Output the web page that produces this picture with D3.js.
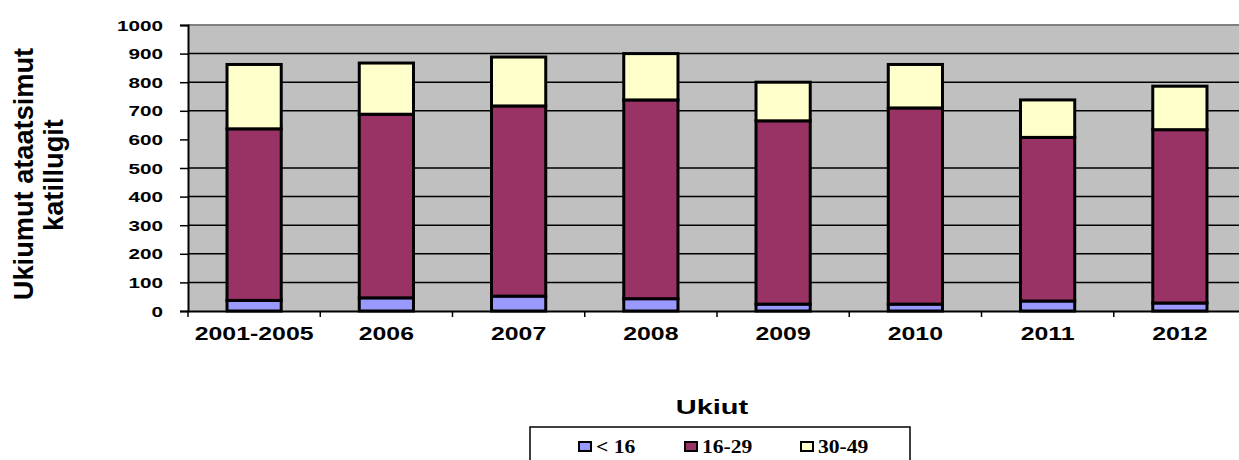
<!DOCTYPE html>
<html>
<head>
<meta charset="utf-8">
<script src="https://cdn.jsdelivr.net/npm/d3@7"></script>
<style>
  body { margin: 0; background: #fff; }
  svg { display: block; }
  text { font-family: "Liberation Sans", Arial, sans-serif; font-weight: bold; fill: #000; }
  .legend text { font-family: "Liberation Serif", "Times New Roman", serif; }
</style>
</head>
<body>
<div id="chart"></div>
<script>
// data
var years = ["2001-2005", "2006", "2007", "2008", "2009", "2010", "2011", "2012"];
var under16 = [37, 46, 52, 43, 24, 24, 35, 28];
var age16_29 = [600, 642, 665, 695, 641, 686, 572, 606];
var age30_49 = [225, 179, 171, 162, 135, 152, 131, 152];
var seriesNames = ["< 16", "16-29", "30-49"];
var seriesColors = ["#9999ff", "#993366", "#ffffcc"];
var yTicks = [0, 100, 200, 300, 400, 500, 600, 700, 800, 900, 1000];
var gridTicks = [100, 200, 300, 400, 500, 700, 800, 900]; // 600 line is missing in the original

var W = 1239, H = 460;
// picture is stretched horizontally
var sx = 1.38;

var svg = d3.select("#chart").append("svg")
    .attr("width", W)
    .attr("height", H);

var x = d3.scaleBand()
    .domain(years)
    .range([188, 1246])
    .padding(0);
var y = d3.scaleLinear()
    .domain([0, 1000])
    .range([311, 25]);

var barW = x.bandwidth() * 0.41;

// plot background
svg.append("rect")
    .attr("x", x.range()[0]).attr("y", y(1000))
    .attr("width", x.range()[1] - x.range()[0])
    .attr("height", y(0) - y(1000))
    .attr("fill", "#c0c0c0");
svg.append("line")
    .attr("x1", x.range()[0]).attr("x2", W)
    .attr("y1", y(1000)).attr("y2", y(1000))
    .attr("stroke", "#808080").attr("stroke-width", 2);

// gridlines
svg.append("g").attr("class", "grid")
    .selectAll("line")
    .data(gridTicks)
  .enter().append("line")
    .attr("x1", x.range()[0]).attr("x2", W)
    .attr("y1", function(d) { return y(d); })
    .attr("y2", function(d) { return y(d); })
    .attr("stroke", "#000").attr("stroke-width", 1.5);

// stack the data
var table = years.map(function(yr, i) {
  return { year: yr, a: under16[i], b: age16_29[i], c: age30_49[i] };
});
var stack = d3.stack().keys(["a", "b", "c"])(table);

svg.append("g").attr("class", "bars")
    .selectAll("g")
    .data(stack)
  .enter().append("g")
    .attr("fill", function(d, i) { return seriesColors[i]; })
    .selectAll("rect")
    .data(function(d) { return d; })
  .enter().append("rect")
    .attr("x", function(d) { return x(d.data.year) + (x.bandwidth() - barW) / 2; })
    .attr("y", function(d) { return y(d[1]); })
    .attr("width", barW)
    .attr("height", function(d) { return y(d[0]) - y(d[1]); })
    .attr("stroke", "#000")
    .attr("stroke-width", 3);

// y axis
var yAxis = svg.append("g").attr("class", "yaxis")
    .attr("transform", "translate(" + x.range()[0] + ",0)")
    .call(d3.axisLeft(y).tickValues(yTicks).tickSize(8).tickFormat(d3.format("d")));
yAxis.select(".domain").attr("stroke", "#000").attr("stroke-width", 2);
yAxis.selectAll(".tick line").attr("stroke", "#000").attr("stroke-width", 1.5);
yAxis.selectAll(".tick text")
    .attr("x", 0)
    .attr("dy", "0.34em")
    .attr("font-size", "15px")
    .attr("transform", "translate(-25,0) scale(" + sx + ",1)");

// x axis: labels centred, ticks on band edges
var xAxis = svg.append("g").attr("class", "xaxis")
    .attr("transform", "translate(0," + y(0) + ")")
    .call(d3.axisBottom(x).tickSize(0).tickSizeOuter(0));
xAxis.select(".domain").attr("stroke", "#000").attr("stroke-width", 2);
xAxis.selectAll(".tick text")
    .attr("y", 0)
    .attr("dy", 0)
    .attr("font-size", "18px")
    .attr("transform", "translate(0,29) scale(" + sx + ",1)");
xAxis.selectAll(".edge")
    .data(years.map(function(d) { return x(d); }))
  .enter().append("line")
    .attr("class", "edge")
    .attr("x1", function(d) { return d; }).attr("x2", function(d) { return d; })
    .attr("y1", 0).attr("y2", 6)
    .attr("stroke", "#000").attr("stroke-width", 1.5);

// axis titles
svg.append("text")
    .attr("transform", "translate(33,174) rotate(-90) scale(1.36,1.38)")
    .attr("text-anchor", "middle")
    .attr("font-size", "20px")
    .text("Ukiumut ataatsimut");
svg.append("text")
    .attr("transform", "translate(63,175) rotate(-90) scale(1.36,1.38)")
    .attr("text-anchor", "middle")
    .attr("font-size", "20px")
    .text("katillugit");
svg.append("text")
    .attr("transform", "translate(712,414) scale(" + sx + ",1)")
    .attr("text-anchor", "middle")
    .attr("font-size", "21px")
    .text("Ukiut");

// legend
var legend = svg.append("g").attr("class", "legend");
legend.append("rect")
    .attr("x", 530).attr("y", 427)
    .attr("width", 380).attr("height", 60)
    .attr("fill", "#fff")
    .attr("stroke", "#000").attr("stroke-width", 1.5);
var legendX = [578, 684, 800];
var item = legend.selectAll(".item")
    .data(seriesNames)
  .enter().append("g")
    .attr("class", "item")
    .attr("transform", function(d, i) { return "translate(" + legendX[i] + ",0)"; });
item.append("rect")
    .attr("x", 1).attr("y", 442)
    .attr("width", 12).attr("height", 9)
    .attr("fill", function(d, i) { return seriesColors[i]; })
    .attr("stroke", "#000").attr("stroke-width", 2);
item.append("text")
    .attr("transform", "translate(18,452.5) scale(1.2,1)")
    .attr("font-size", "18px")
    .text(function(d) { return d; });
</script>
</body>
</html>
